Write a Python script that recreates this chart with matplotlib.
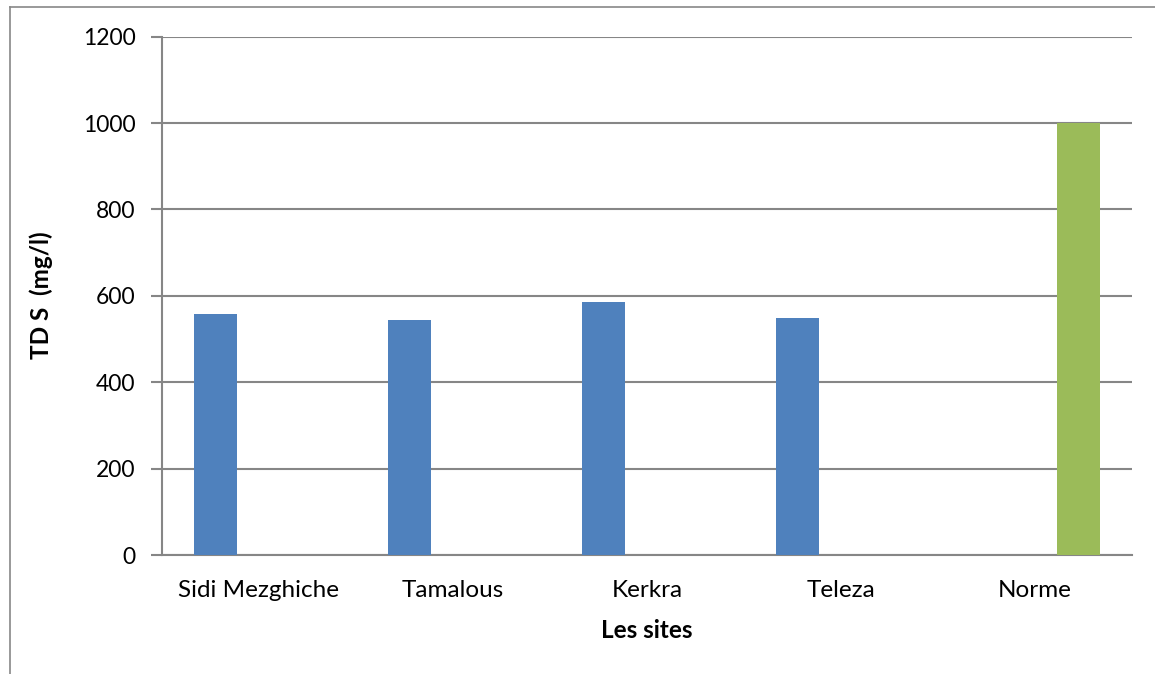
import matplotlib
matplotlib.use("Agg")
import matplotlib.pyplot as plt
from matplotlib.lines import Line2D
import numpy as np

categories = ["Sidi Mezghiche", "Tamalous", "Kerkra", "Teleza", "Norme"]
tds_sites = [558, 544, 585, 548, 0]
tds_norme = [0, 0, 0, 0, 1000]
y_ticks = [0, 200, 400, 600, 800, 1000, 1200]

plt.rcParams['font.family'] = ['Lato', 'DejaVu Sans']

W, H = 1155, 674
fig = plt.figure(figsize=(W / 100, H / 100), dpi=100)
ax = fig.add_axes([162 / W, 1 - 555 / H, (1132 - 162) / W, (555 - 36.6) / H])

x = np.arange(len(categories))
bw = 0.224
ax.bar(x - bw, tds_sites, width=bw, color="#4F81BD", zorder=3)
ax.bar(x + bw, tds_norme, width=bw, color="#9BBB59", zorder=3)

ax.set_xlim(-0.5, len(categories) - 0.5)
ax.set_ylim(0, 1200)
ax.set_yticks(y_ticks)
ax.set_yticklabels([str(v) for v in y_ticks], fontsize=16.5)
ax.set_xticks(x)
ax.set_xticklabels(categories, fontsize=17.5)
ax.tick_params(axis='x', length=0, pad=18)
ax.tick_params(axis='y', length=8, width=1.5, color="#868686", pad=11)

ax.grid(axis='y', color="#868686", linewidth=1.5, zorder=0)
for s in ["top", "right"]:
    ax.spines[s].set_visible(False)
for s in ["left", "bottom"]:
    ax.spines[s].set_color("#868686")
    ax.spines[s].set_linewidth(1.5)

fig.text(41 / W, 1 - 295 / H, "TD S  (mg/l)", rotation=90, ha='center', va='center',
         fontsize=17.5, fontweight='bold')
fig.text(647 / W, 1 - 631 / H, "Les sites", ha='center', va='center',
         fontsize=17.5, fontweight='bold')

# outer chart frame (only left and top visible in the crop)
fig.add_artist(Line2D([10 / W, 10 / W], [0, 1 - 7 / H], transform=fig.transFigure, color="#888888", linewidth=1.2))
fig.add_artist(Line2D([10 / W, 1], [1 - 7 / H, 1 - 7 / H], transform=fig.transFigure, color="#888888", linewidth=1.2))

fig.savefig("out.png", dpi=100, facecolor="white")
